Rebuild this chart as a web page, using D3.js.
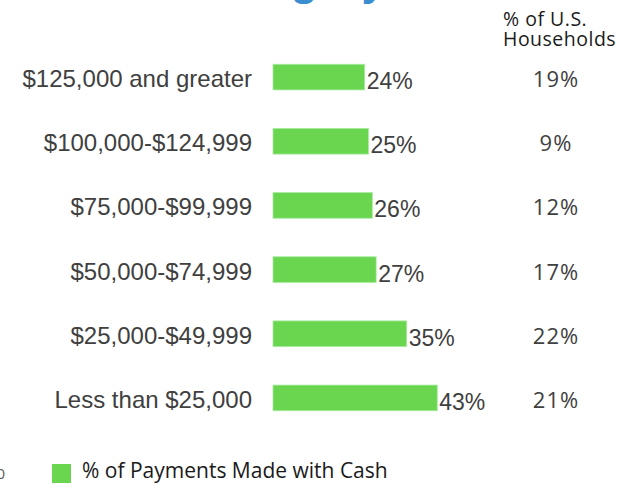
<!DOCTYPE html>
<html>
<head>
<meta charset="utf-8">
<script src="https://cdn.jsdelivr.net/npm/d3@7"></script>
<style>
  body { margin: 0; background: #fff; }
  svg { display: block; }
</style>
</head>
<body>
<div id="chart"></div>
<script>

// income groups, top to bottom
var categories = ["$125,000 and greater", "$100,000-$124,999", "$75,000-$99,999",
                  "$50,000-$74,999", "$25,000-$49,999", "Less than $25,000"];
var cashShare = [24, 25, 26, 27, 35, 43];        // % of payments made with cash
var householdShare = [19, 9, 12, 17, 22, 21];    // % of U.S. households
var legendLabel = "% of Payments Made with Cash";
var columnHeader = ["% of U.S.", "Households"];
var titleLines = ["Cash Use by", "Income Category"];

var width = 636, height = 483;

var svg = d3.select("#chart").append("svg")
    .attr("width", width)
    .attr("height", height);

var x = d3.scaleLinear().domain([0, 50]).range([273, 464]);
var y = d3.scaleBand().domain(categories).range([45, 430])
    .paddingInner(0.6).paddingOuter(0.3);

// title, cropped off the top: only the descenders peek in
svg.append("text")
    .attr("text-anchor", "end")
    .style("font", "bold 44px 'Liberation Sans', Arial, sans-serif")
    .style("fill", "#3a8ecf")
    .selectAll("tspan").data(titleLines).join("tspan")
    .attr("x", 386)
    .attr("y", function(d, i) { return i ? -5 : -55; })
    .text(function(d) { return d; });

// header of the right column
svg.append("text")
    .attr("x", 503).attr("y", 26)
    .style("font", "19.5px 'Open Sans', sans-serif")
    .style("letter-spacing", "0.5px")
    .style("fill", "#1a1a1a")
    .selectAll("tspan").data(columnHeader).join("tspan")
    .attr("x", 503)
    .attr("dy", function(d, i) { return i ? 20 : 0; })
    .text(function(d) { return d; });

var rows = svg.selectAll("g.row")
    .data(categories.map(function(c, i) {
        return { cat: c, cash: cashShare[i], hh: householdShare[i] };
    }))
    .join("g").attr("class", "row");

rows.append("rect")
    .attr("x", x(0))
    .attr("y", function(d) { return y(d.cat); })
    .attr("width", function(d) { return x(d.cash) - x(0); })
    .attr("height", y.bandwidth())
    .attr("fill", "#6ad650")
    .attr("stroke", "#a8eba0")
    .attr("stroke-width", 0.8);

rows.append("text")
    .attr("x", 252)
    .attr("y", function(d) { return y(d.cat) + y.bandwidth() / 2 + 10; })
    .attr("text-anchor", "end")
    .style("font", "24px 'Liberation Sans', Arial, sans-serif")
    .style("fill", "#404040")
    .text(function(d) { return d.cat; });

rows.append("text")
    .attr("x", function(d) { return x(d.cash) + 2; })
    .attr("y", function(d) { return y(d.cat) + y.bandwidth() / 2 + 12; })
    .style("font", "23px 'Liberation Sans', Arial, sans-serif")
    .style("fill", "#404040")
    .text(function(d) { return d.cash + "%"; });

rows.append("text")
    .attr("x", 556)
    .attr("y", function(d) { return y(d.cat) + y.bandwidth() / 2 + 10; })
    .attr("text-anchor", "middle")
    .style("font", "22px 'Open Sans', sans-serif")
    .style("letter-spacing", "1px")
    .style("fill", "#404040")
    .text(function(d) { return d.hh + "%"; });

// stray axis tick at the left edge
svg.append("text")
    .attr("x", 5).attr("y", 479)
    .attr("text-anchor", "end")
    .style("font", "15px 'Open Sans', sans-serif")
    .style("fill", "#595959")
    .text("0");

// legend
svg.append("rect")
    .attr("x", 52).attr("y", 464)
    .attr("width", 19).attr("height", 19)
    .attr("fill", "#6ad650");

svg.append("text")
    .attr("x", 82).attr("y", 478)
    .style("font", "21px 'Open Sans', sans-serif")
    .style("fill", "#1a1a1a")
    .text(legendLabel);

</script>
</body>
</html>
